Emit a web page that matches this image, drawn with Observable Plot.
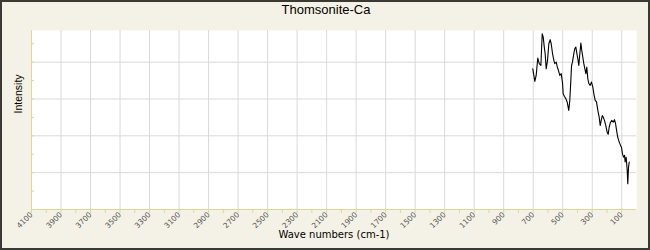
<!DOCTYPE html>
<html>
<head>
<meta charset="utf-8">
<script src="https://cdn.jsdelivr.net/npm/d3@7"></script>
<script src="https://cdn.jsdelivr.net/npm/@observablehq/plot@0.6"></script>
<style>
  html, body { margin: 0; padding: 0; background: #f4f2e6; }
</style>
</head>
<body>
<div id="chart"></div>
<script>
const title = "Thomsonite-Ca";
const xLabel = "Wave numbers (cm-1)";
const yLabel = "Intensity";

const wavenumbers = [703,689,680,669,659,648,639,632,625,619,612,603,594,585,578,569,560,554,544,537,529,520,510,501,497,488,479,470,459,452,445,440,434,425,418,411,404,398,391,384,377,371,364,357,350,343,337,330,323,314,305,296,287,280,271,262,253,246,239,232,226,217,208,199,192,185,176,167,158,149,142,135,127,117,108,102,95,88,81,77,70,63,59,54,49];
const intensity = [3.82,3.48,3.64,4.11,3.96,3.91,4.77,4.68,4.41,4.23,3.82,4.05,4.50,4.61,4.50,4.23,4.05,3.96,4.00,3.87,3.78,3.64,3.69,3.42,3.14,3.07,3.01,2.92,2.69,2.96,3.51,3.91,4.00,4.23,4.37,4.41,4.23,4.10,3.91,4.23,4.52,4.32,4.14,3.96,3.82,3.69,3.87,3.55,3.42,3.37,3.46,3.32,3.10,2.96,2.92,2.69,2.51,2.28,2.42,2.55,2.51,2.42,2.28,2.10,2.04,2.24,2.37,2.42,2.37,2.44,2.33,2.15,1.96,1.83,1.74,1.69,1.51,1.42,1.47,1.29,1.42,1.06,0.70,1.15,1.29];

const xLabelTicks = [4100,3900,3700,3500,3300,3100,2900,2700,2500,2300,2100,1900,1700,1500,1300,1100,900,700,500,300,100];
const xMinorTicks = d3.range(4100, 0, -100);
const yGridTicks = [1, 2, 3, 4];
const yMinorTicks = [0.5, 1, 1.5, 2, 2.5, 3, 3.5, 4, 4.5];

const data = wavenumbers.map((w, i) => ({w, v: intensity[i]}));

const axisColor = "#dcd79c";
const gridColor = "#d9d9d9";

const chart = Plot.plot({
  width: 650,
  height: 250,
  marginLeft: 31,
  marginRight: 14,
  marginTop: 30,
  marginBottom: 41,
  style: {
    background: "#f4f2e6",
    fontFamily: "Liberation Sans, Arial, sans-serif",
    outline: "2px solid #3b3934",
    outlineOffset: "-2px"
  },
  x: {domain: [4100, 0]},
  y: {domain: [0, 4.86]},
  marks: [
    Plot.frame({fill: "white", stroke: null}),
    Plot.gridX(xLabelTicks, {stroke: gridColor, strokeOpacity: 1}),
    Plot.gridY(yGridTicks, {stroke: gridColor, strokeOpacity: 1}),
    Plot.axisX(xMinorTicks, {tickSize: 4, tickFormat: () => "", stroke: axisColor, label: null}),
    Plot.axisX(xLabelTicks, {tickSize: 0, tickPadding: 4, tickRotate: -45, textAnchor: "end", tickFormat: d => String(d), fontSize: 7.5, fontFamily: "DejaVu Sans", fill: "#555", label: null}),
    Plot.axisY(yMinorTicks, {tickSize: -3, tickFormat: () => "", stroke: axisColor, label: null}),
    Plot.ruleX([4100], {stroke: axisColor}),
    Plot.ruleY([0], {stroke: axisColor}),
    Plot.line(data, {x: "w", y: "v", stroke: "black", strokeWidth: 1.1}),
    Plot.text([title], {frameAnchor: "top", dx: -8, dy: -16.5, lineAnchor: "bottom", fontSize: 13, fill: "#000"}),
    Plot.text([yLabel], {frameAnchor: "left", dx: -12.5, dy: -6.5, rotate: -90, fontSize: 10.5, fill: "#000"}),
    Plot.text([xLabel], {frameAnchor: "bottom", dy: 28.3, lineAnchor: "bottom", fontSize: 10, fontFamily: "DejaVu Sans", fill: "#000"})
  ]
});

document.getElementById("chart").appendChild(chart);
</script>
</body>
</html>
